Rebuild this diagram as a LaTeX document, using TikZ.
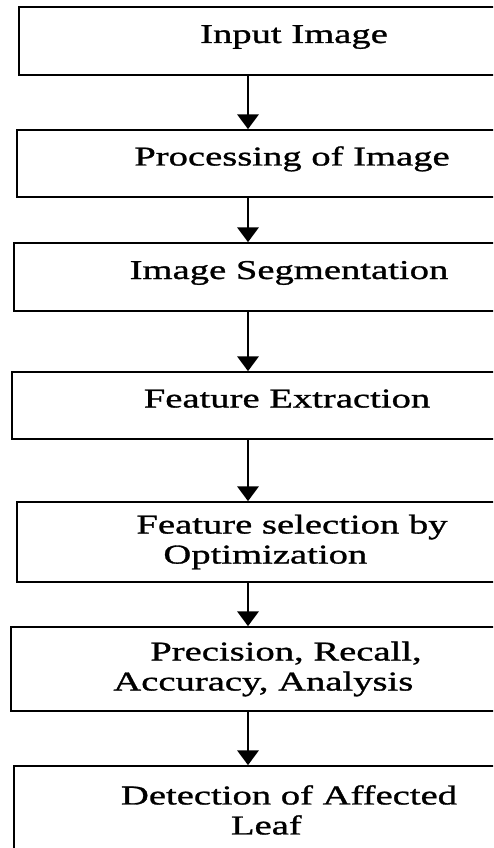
\documentclass[tikz,border=0pt]{standalone}
\usepackage{fontspec}
\setmainfont{Liberation Serif}[FakeStretch=1.42,FakeBold=1.1]
\usetikzlibrary{arrows.meta,positioning}

\tikzset{
  stage/.style={draw, line width=1.3pt, minimum width=412.5pt, inner sep=0pt,
    font=\fontsize{20.4}{22.5}\selectfont, align=center},
  oneline/.style={stage, text height=14pt, text depth=11pt},
  flow/.style={line width=1.3pt, -{Triangle[width=16pt,length=11pt]}}
}

\begin{document}
\begin{tikzpicture}[x=0.75pt,y=-0.75pt]
\useasboundingbox (0,0) rectangle (493,848);
\clip (0,0) rectangle (493,848);
\coordinate (ax) at (248,0);
% stages
\node[oneline, minimum height=51pt] (input) at (294,41) {Input Image};
\node[oneline, minimum height=50.25pt] (proc) at (292,163.5) {Processing of Image};
\node[oneline, minimum height=51pt] (seg) at (289,277) {Image Segmentation};
\node[oneline, minimum height=50.25pt] (feat) at (287,405.5) {Feature Extraction};
\node[stage, minimum height=60pt] (sel) at (292,542)
  {Feature selection by\\Optimization\hspace{40pt}\mbox{}};
\node[stage, minimum height=63pt] (acc) at (286,669)
  {Precision, Recall,\\Accuracy, Analysis\hspace{34pt}\mbox{}};
\node[stage, minimum height=66pt] (leaf) at (289,810)
  {Detection of Affected\\Leaf\hspace{34pt}\mbox{}};
% arrows
\draw[flow] (input.south -| ax) -- (proc.north -| ax);
\draw[flow] (proc.south -| ax) -- (seg.north -| ax);
\draw[flow] (seg.south -| ax) -- (feat.north -| ax);
\draw[flow] (feat.south -| ax) -- (sel.north -| ax);
\draw[flow] (sel.south -| ax) -- (acc.north -| ax);
\draw[flow] (acc.south -| ax) -- (leaf.north -| ax);
\end{tikzpicture}
\end{document}
